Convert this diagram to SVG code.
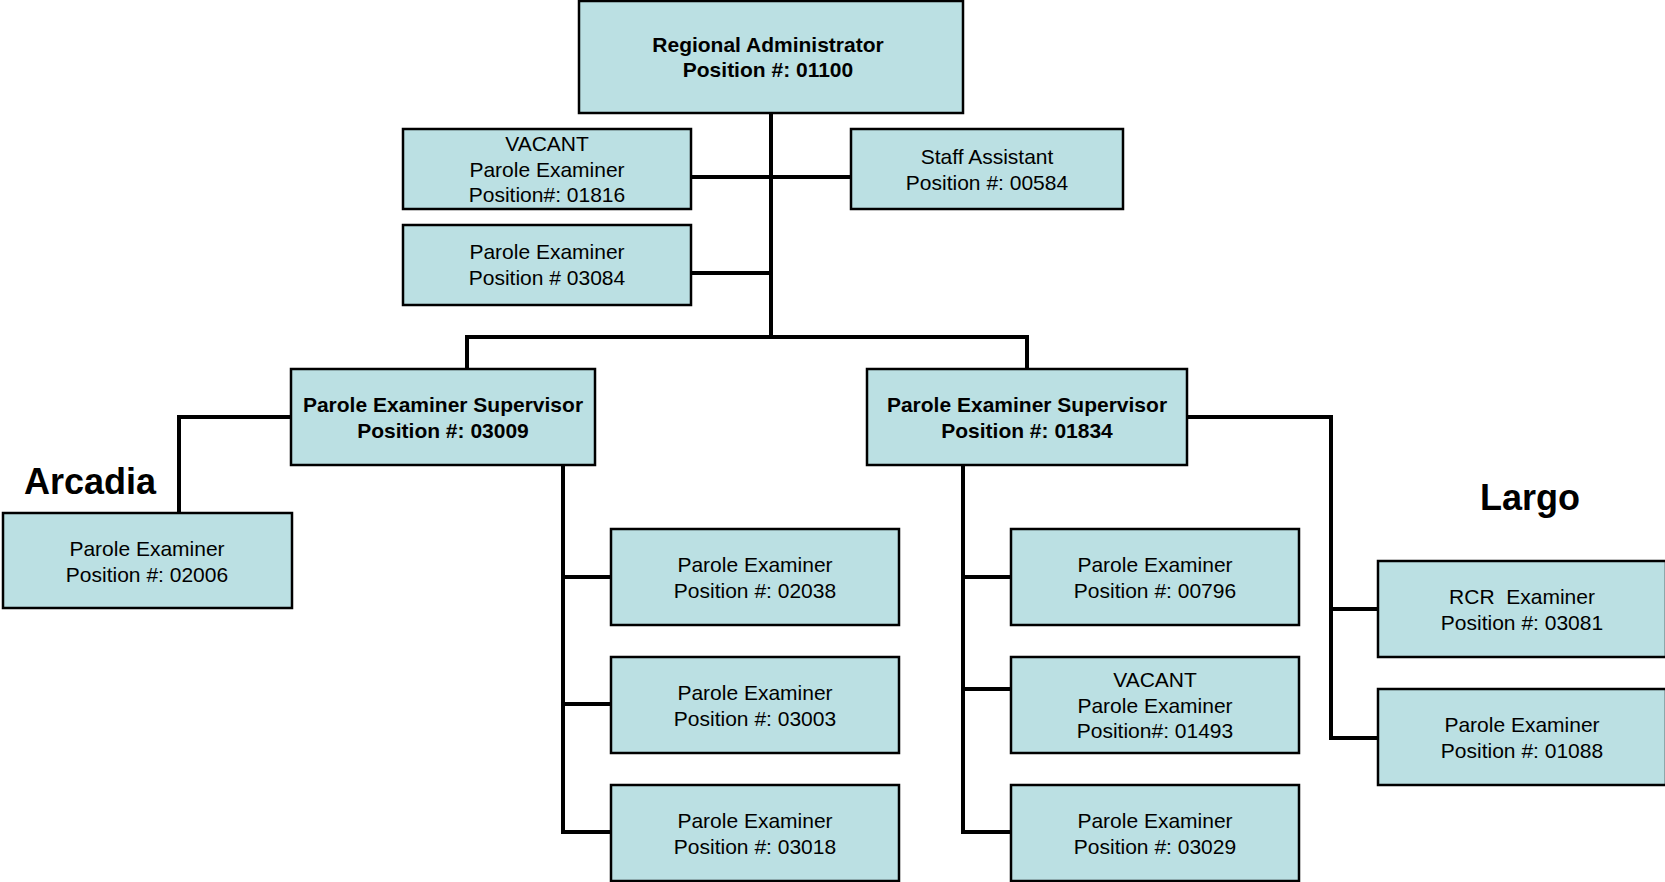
<svg xmlns="http://www.w3.org/2000/svg" width="1665" height="882" viewBox="0 0 1665 882">
<style>
.box{fill:#BBE0E3;stroke:#000;stroke-width:2.5}
.t{font-family:"Liberation Sans",Arial,sans-serif;font-size:21px;fill:#000;text-anchor:middle}
.b{font-weight:bold}
.lbl{font-family:"Liberation Sans",Arial,sans-serif;font-size:36px;font-weight:bold;fill:#000;text-anchor:middle}
.c{fill:none;stroke:#000;stroke-width:4;stroke-linecap:square;stroke-linejoin:miter}
</style>
<rect width="1665" height="882" fill="#fff"/>
<g id="connectors">
<path class="c" d="M771,113 V337"/>
<path class="c" d="M691,177 H851"/>
<path class="c" d="M691,273 H771"/>
<path class="c" d="M467,369 V337 H1027 V369"/>
<path class="c" d="M291,417 H179 V513"/>
<path class="c" d="M563,465 V832 H611 M563,577 H611 M563,704 H611"/>
<path class="c" d="M963,465 V832 H1011 M963,577 H1011 M963,689 H1011"/>
<path class="c" d="M1187,417 H1331 V738 H1378 M1331,609 H1378"/>
</g>
<g id="n-ra">
<rect class="box" x="579" y="1" width="384" height="112"/>
<text class="t b" x="768" y="52">Regional Administrator</text>
<text class="t b" x="768" y="77">Position #: 01100</text>
</g>
<g id="n-vacant-01816">
<rect class="box" x="403" y="129" width="288" height="80"/>
<text class="t" x="547" y="151">VACANT</text>
<text class="t" x="547" y="177">Parole Examiner</text>
<text class="t" x="547" y="202">Position#: 01816</text>
</g>
<g id="n-staff">
<rect class="box" x="851" y="129" width="272" height="80"/>
<text class="t" x="987" y="164">Staff Assistant</text>
<text class="t" x="987" y="190">Position #: 00584</text>
</g>
<g id="n-03084">
<rect class="box" x="403" y="225" width="288" height="80"/>
<text class="t" x="547" y="259">Parole Examiner</text>
<text class="t" x="547" y="285">Position # 03084</text>
</g>
<g id="n-sup-03009">
<rect class="box" x="291" y="369" width="304" height="96"/>
<text class="t b" x="443" y="412">Parole Examiner Supervisor</text>
<text class="t b" x="443" y="438">Position #: 03009</text>
</g>
<g id="n-sup-01834">
<rect class="box" x="867" y="369" width="320" height="96"/>
<text class="t b" x="1027" y="412">Parole Examiner Supervisor</text>
<text class="t b" x="1027" y="438">Position #: 01834</text>
</g>
<g id="lbl-arcadia">
<text class="lbl" x="90" y="494">Arcadia</text>
</g>
<g id="lbl-largo">
<text class="lbl" x="1530" y="510">Largo</text>
</g>
<g id="n-02006">
<rect class="box" x="3" y="513" width="289" height="95"/>
<text class="t" x="147" y="556">Parole Examiner</text>
<text class="t" x="147" y="582">Position #: 02006</text>
</g>
<g id="n-02038">
<rect class="box" x="611" y="529" width="288" height="96"/>
<text class="t" x="755" y="572">Parole Examiner</text>
<text class="t" x="755" y="598">Position #: 02038</text>
</g>
<g id="n-03003">
<rect class="box" x="611" y="657" width="288" height="96"/>
<text class="t" x="755" y="700">Parole Examiner</text>
<text class="t" x="755" y="726">Position #: 03003</text>
</g>
<g id="n-03018">
<rect class="box" x="611" y="785" width="288" height="96"/>
<text class="t" x="755" y="828">Parole Examiner</text>
<text class="t" x="755" y="854">Position #: 03018</text>
</g>
<g id="n-00796">
<rect class="box" x="1011" y="529" width="288" height="96"/>
<text class="t" x="1155" y="572">Parole Examiner</text>
<text class="t" x="1155" y="598">Position #: 00796</text>
</g>
<g id="n-vacant-01493">
<rect class="box" x="1011" y="657" width="288" height="96"/>
<text class="t" x="1155" y="687">VACANT</text>
<text class="t" x="1155" y="713">Parole Examiner</text>
<text class="t" x="1155" y="738">Position#: 01493</text>
</g>
<g id="n-03029">
<rect class="box" x="1011" y="785" width="288" height="96"/>
<text class="t" x="1155" y="828">Parole Examiner</text>
<text class="t" x="1155" y="854">Position #: 03029</text>
</g>
<g id="n-03081">
<rect class="box" x="1378" y="561" width="288" height="96"/>
<text class="t" x="1522" y="604" xml:space="preserve">RCR  Examiner</text>
<text class="t" x="1522" y="630">Position #: 03081</text>
</g>
<g id="n-01088">
<rect class="box" x="1378" y="689" width="288" height="96"/>
<text class="t" x="1522" y="732">Parole Examiner</text>
<text class="t" x="1522" y="758">Position #: 01088</text>
</g>
</svg>
